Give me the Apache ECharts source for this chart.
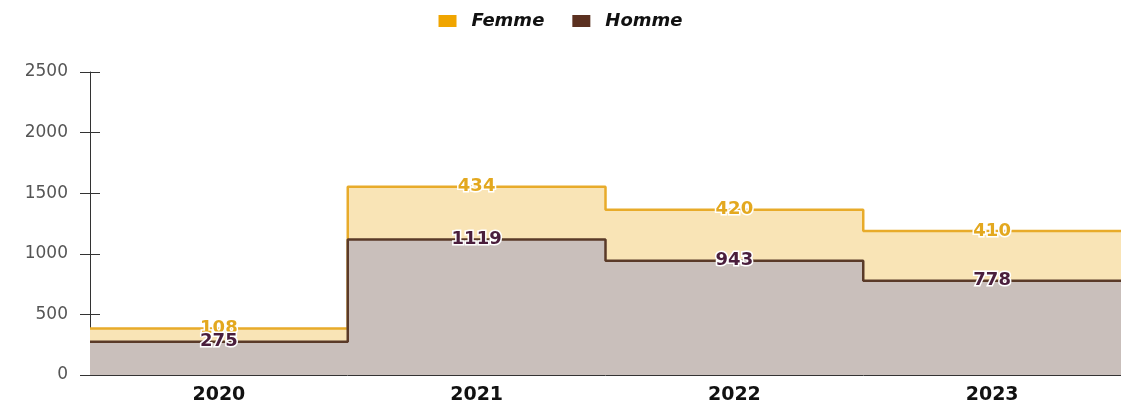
<!DOCTYPE html>
<html>
<head>
<meta charset="utf-8">
<script src="https://cdn.jsdelivr.net/npm/echarts@6/dist/echarts.min.js"></script>
<style>
html,body{margin:0;padding:0;background:#fff;}
#chart{width:1121px;height:405px;}
</style>
</head>
<body>
<div id="chart"></div>
<script>
var years = ['2020', '2021', '2022', '2023'];
var femme = [108, 434, 420, 410];
var homme = [275, 1119, 943, 778];
var yTicks = [0, 500, 1000, 1500, 2000, 2500];

// build flat steps: each year covers [i, i+1] on a hidden value axis
function stepData(tops, shown){
	var out = [];
	for(var i=0;i<tops.length;i++){
		if(i>0) out.push([i, tops[i-1]]);
		out.push([i, tops[i]]);
		out.push({value:[i+0.5, tops[i]], label:{show:true, formatter:String(shown[i])}});
	}
	out.push([tops.length, tops[tops.length-1]]);
	return out;
}
var femmeTop = homme.map(function(v,i){ return v+femme[i]; });

var chart = echarts.init(document.getElementById('chart'));
var font = 'DejaVu Sans';
var option = {
	animation:false,
	legend:{
		top:7,
		left:'center',
		icon:'rect',
		itemWidth:18,
		itemHeight:12,
		itemGap:28,
		textStyle:{fontFamily:font, fontSize:18, fontWeight:'bold', fontStyle:'italic', color:'#111', padding:[0,0,0,10]},
		data:['Femme','Homme']
	},
	grid:{left:90, right:0, top:72, bottom:29},
	xAxis:[{
		type:'category',
		data:years,
		boundaryGap:true,
		axisLine:{lineStyle:{color:'#333', width:1}},
		axisTick:{show:false},
		axisLabel:{fontFamily:font, fontSize:19, fontWeight:'bold', color:'#111', margin:11}
	},{
		type:'value',
		min:0,
		max:years.length,
		show:false
	}],
	yAxis:[{
		type:'value',
		min:yTicks[0],
		max:yTicks[yTicks.length-1],
		interval:500,
		axisLine:{show:true, lineStyle:{color:'#333'}},
		axisTick:{show:true, length:10, lineStyle:{color:'#333'}},
		splitLine:{show:false},
		axisLabel:{fontFamily:font, fontSize:17, color:'#555', margin:22, formatter:function(v){ return String(v); }}
	},{
		type:'value',
		position:'left',
		min:yTicks[0],
		max:yTicks[yTicks.length-1],
		interval:500,
		axisLine:{show:false},
		axisTick:{show:true, inside:true, length:10, lineStyle:{color:'#333'}},
		axisLabel:{show:false},
		splitLine:{show:false}
	}],
	series:[{
		name:'Femme',
		type:'line',
		xAxisIndex:1,
		color:'#f0a500',
		symbolSize:0,
		showAllSymbol:true,
		lineStyle:{color:'#e8ab2a', width:2.5},
		areaStyle:{color:'#f9e4b6', opacity:1},
		label:{show:false, position:'inside', fontFamily:font, fontSize:18, fontWeight:'bold', color:'#e3a81f', textBorderColor:'#fff', textBorderWidth:3},
		z:2,
		data:stepData(femmeTop, femme)
	},{
		name:'Homme',
		type:'line',
		xAxisIndex:1,
		color:'#5b3020',
		symbolSize:0,
		showAllSymbol:true,
		lineStyle:{color:'#5a3a28', width:2.5},
		areaStyle:{color:'#c9bfbb', opacity:1},
		label:{show:false, position:'inside', fontFamily:font, fontSize:18, fontWeight:'bold', color:'#4a1e3c', textBorderColor:'#fff', textBorderWidth:3},
		z:3,
		data:stepData(homme, homme)
	}]
};
chart.setOption(option);
</script>
</body>
</html>
